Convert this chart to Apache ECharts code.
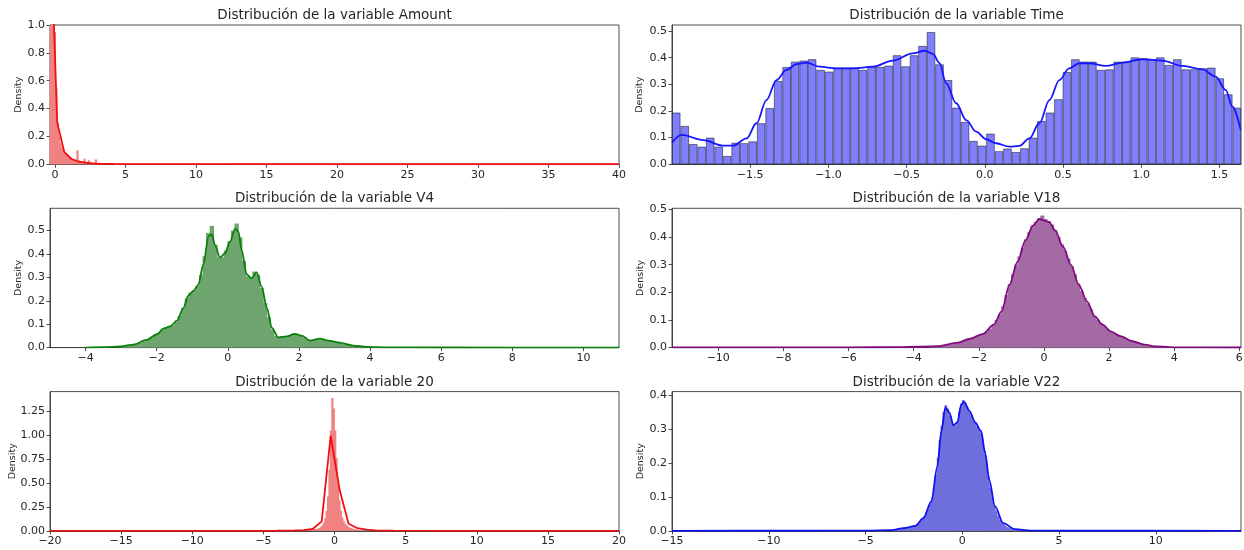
<!DOCTYPE html>
<html><head><meta charset="utf-8">
<script src="https://cdn.jsdelivr.net/npm/echarts@6/dist/echarts.min.js"></script>
<style>html,body{margin:0;padding:0;background:#fff}#c{width:1244px;height:550px}</style>
</head><body><div id="c"></div>
<script>
// ---------- Amount ----------
const amountXTicks = [0,5,10,15,20,25,30,35,40];
const amountYTicks = [0,0.2,0.4,0.6,0.8,1.0];
const amountBinStart = -0.35, amountBinWidth = 0.1;
const amountHist = [1.8,1.6,1.3,0.95,0.55,0.30,0.20,0.15,0.12,0.10,0.085,0.07,0.06,0.052,0.046,0.042,0.038,0.034,0.030,0.10,0.028,0.024,0.020,0.018,0.04,0.016,0.014,0.03,0.012,0.011,0.010,0.012,0.035,0.008,0.007,0.006,0.005,0.005,0.004];
const amountKdeX = [-0.34,0.16,0.66,1.17,1.67,2.17,2.67,3.17,3.67,4.17,5.0,7.0,10.0,20.0,40.0];
const amountKdeY = [1.82,0.30,0.09,0.038,0.020,0.012,0.007,0.004,0.003,0.002,0.0015,0.001,0.0007,0.0004,0.0002];

// ---------- Time ----------
const timeXTicks = [-1.5,-1.0,-0.5,0,0.5,1.0,1.5];
const timeYTicks = [0,0.1,0.2,0.3,0.4,0.5];
const timeBinStart = -2.0, timeBinWidth = 0.0543;
const timeHist = [0.194,0.144,0.076,0.066,0.100,0.066,0.031,0.081,0.079,0.086,
  0.154,0.211,0.3125,0.365,0.385,0.389,0.394,0.354,0.3475,0.3625,
  0.3625,0.3625,0.354,0.3675,0.365,0.37,0.409,0.3675,0.409,0.444,
  0.496,0.375,0.316,0.2125,0.159,0.0875,0.07,0.115,0.049,0.059,
  0.046,0.06,0.10,0.1625,0.194,0.244,0.346,0.394,0.385,0.385,
  0.354,0.356,0.385,0.385,0.401,0.3975,0.394,0.401,0.3725,0.394,
  0.356,0.356,0.36,0.3625,0.3225,0.2625,0.2125];
const timeKdeX = [-2.0,-1.938,-1.80,-1.673,-1.609,-1.523,-1.46,-1.396,-1.332,-1.268,-1.204,-1.14,-1.055,-0.949,-0.843,-0.715,-0.588,-0.46,-0.385,-0.332,-0.29,-0.247,-0.183,-0.119,-0.055,0.008,0.072,0.157,0.221,0.285,0.349,0.413,0.477,0.54,0.604,0.668,0.774,0.88,1.008,1.135,1.263,1.391,1.476,1.54,1.583,1.636];
const timeKdeY = [0.081,0.110,0.091,0.070,0.070,0.0975,0.154,0.241,0.316,0.354,0.376,0.381,0.366,0.360,0.360,0.366,0.389,0.416,0.426,0.414,0.38,0.304,0.229,0.166,0.1225,0.094,0.079,0.066,0.069,0.0975,0.154,0.241,0.316,0.36,0.379,0.379,0.369,0.381,0.394,0.389,0.369,0.356,0.329,0.279,0.216,0.129];

// ---------- V4 ----------
const v4XTicks = [-4,-2,0,2,4,6,8,10];
const v4YTicks = [0,0.1,0.2,0.3,0.4,0.5];
const v4BinStart = -3.0, v4BinWidth = 0.1;
const v4Hist = [0.006,0.008,0.010,0.013,0.017,0.021,0.027,0.035,0.042,0.052,
  0.062,0.076,0.086,0.090,0.095,0.110,0.135,0.170,0.210,0.235,
  0.245,0.262,0.310,0.390,0.490,0.520,0.440,0.385,0.385,0.415,
  0.455,0.500,0.530,0.470,0.370,0.305,0.300,0.325,0.310,0.255,
  0.190,0.130,0.078,0.050,0.043,0.045,0.049,0.054,0.060,0.058,
  0.052,0.043,0.033,0.030,0.033,0.038,0.037,0.032,0.029,0.026,
  0.023,0.020,0.017,0.013,0.010,0.008,0.006,0.004,0.003,0.002];
const v4KdeX = [-4.0,-3.5,-3.0,-2.65,-2.28,-1.99,-1.81,-1.62,-1.43,-1.25,-1.11,-0.97,-0.83,-0.69,-0.54,-0.45,-0.36,-0.22,-0.08,0.06,0.21,0.30,0.39,0.53,0.67,0.81,0.95,1.10,1.24,1.42,1.66,1.89,2.08,2.31,2.59,2.83,3.15,3.53,3.90,4.5,6.0,11.0];
const v4KdeY = [0.0003,0.002,0.005,0.013,0.033,0.057,0.081,0.091,0.115,0.169,0.222,0.242,0.268,0.353,0.477,0.483,0.438,0.384,0.402,0.452,0.508,0.494,0.416,0.313,0.296,0.321,0.261,0.169,0.084,0.044,0.048,0.059,0.051,0.030,0.038,0.030,0.021,0.0085,0.003,0.001,0.0004,0.0001];

// ---------- V18 ----------
const v18XTicks = [-10,-8,-6,-4,-2,0,2,4,6];
const v18YTicks = [0,0.1,0.2,0.3,0.4,0.5];
const v18BinStart = -3.5, v18BinWidth = 0.1;
const v18Hist = [0.003,0.004,0.005,0.006,0.008,0.010,0.012,0.015,0.018,0.021,
  0.025,0.029,0.034,0.038,0.042,0.046,0.051,0.058,0.068,0.082,
  0.100,0.120,0.150,0.190,0.230,0.265,0.300,0.330,0.362,0.392,
  0.418,0.442,0.455,0.468,0.478,0.465,0.458,0.445,0.425,0.400,
  0.374,0.350,0.322,0.295,0.265,0.232,0.205,0.180,0.160,0.138,
  0.115,0.100,0.088,0.078,0.068,0.060,0.053,0.047,0.041,0.035,
  0.030,0.025,0.021,0.017,0.013,0.011,0.008,0.006,0.005,0.004,
  0.003,0.002,0.002,0.001,0.001];
const v18KdeX = [-11.42,-8,-6,-4.5,-3.8,-3.245,-2.64,-2.27,-1.88,-1.54,-1.30,-1.06,-0.81,-0.57,-0.33,-0.14,-0.02,0.16,0.34,0.59,0.83,1.07,1.32,1.56,1.80,2.05,2.35,2.72,3.08,3.45,4.06,5,6.05];
const v18KdeY = [0.0005,0.0008,0.001,0.0015,0.003,0.005,0.018,0.032,0.049,0.083,0.131,0.227,0.311,0.388,0.442,0.466,0.460,0.454,0.424,0.364,0.299,0.227,0.167,0.113,0.083,0.059,0.041,0.023,0.011,0.004,0.001,0.0005,0.0003];

// ---------- 20 ----------
const v20XTicks = [-20,-15,-10,-5,0,5,10,15,20];
const v20YTicks = [0,0.25,0.5,0.75,1.0,1.25];
const v20BinStart = -2.0, v20BinWidth = 0.1;
const v20Hist = [0.006,0.007,0.008,0.010,0.012,0.014,0.017,0.020,0.025,0.032,
  0.042,0.058,0.085,0.130,0.210,0.360,0.640,1.050,1.390,1.280,
  1.050,0.760,0.500,0.320,0.210,0.140,0.100,0.075,0.058,0.046,
  0.037,0.030,0.025,0.021,0.018,0.015,0.013,0.011,0.009,0.008];
const v20KdeX = [-20,-8,-4.05,-3.42,-2.79,-2.16,-1.53,-0.90,-0.27,0.36,0.99,1.62,2.25,2.88,3.51,4.14,8,20];
const v20KdeY = [0.0003,0.0006,0.0015,0.002,0.004,0.008,0.020,0.100,0.995,0.430,0.075,0.028,0.013,0.006,0.003,0.002,0.0006,0.0003];

// ---------- V22 ----------
const v22XTicks = [-15,-10,-5,0,5,10];
const v22YTicks = [0,0.1,0.2,0.3,0.4];
const v22BinStart = -3.5, v22BinWidth = 0.1;
const v22Hist = [0.003,0.004,0.005,0.006,0.008,0.009,0.010,0.011,0.012,0.013,
  0.015,0.018,0.022,0.028,0.035,0.044,0.055,0.066,0.080,0.098,
  0.125,0.165,0.215,0.268,0.310,0.350,0.370,0.360,0.340,0.322,
  0.312,0.310,0.322,0.350,0.372,0.385,0.378,0.365,0.352,0.340,
  0.328,0.318,0.308,0.300,0.290,0.265,0.235,0.195,0.160,0.128,
  0.098,0.075,0.058,0.044,0.033,0.025,0.019,0.014,0.011,0.008,
  0.007,0.005,0.004,0.003,0.003,0.002,0.002,0.001,0.001,0.001];
const v22KdeX = [-15,-8,-5,-3.65,-3.03,-2.42,-2.01,-1.60,-1.29,-1.08,-0.88,-0.67,-0.46,-0.26,-0.05,0.09,0.36,0.67,0.97,1.18,1.39,1.69,2.11,2.72,3.54,5,14.4];
const v22KdeY = [0.0002,0.0005,0.001,0.002,0.008,0.015,0.0375,0.087,0.19,0.294,0.363,0.349,0.311,0.319,0.373,0.38,0.354,0.319,0.294,0.23,0.151,0.072,0.023,0.005,0.001,0.0005,0.0002];

const FONT = 'DejaVu Sans';
const TXT = '#262626';
const AX = '#3a3a3a';
const W = 569, H = 139.3;
const panels = [
  {title:'Distribución de la variable Amount', left:50, top:25, xMin:-0.35, xMax:40, xTicks:amountXTicks, xDec:0, yMax:1.0, yTicks:amountYTicks, yDec:1, nameGap:26,
   bs:amountBinStart, bw:amountBinWidth, hist:amountHist, kx:amountKdeX, ky:amountKdeY, fill:'#f08282', line:'#f01010', border:null, smooth:false},
  {title:'Distribución de la variable Time', left:672, top:25, xMin:-2.0, xMax:-2.0+67*0.0543, xTicks:timeXTicks, xDec:1, yMax:0.5225, yTicks:timeYTicks, yDec:1, nameGap:27,
   bs:timeBinStart, bw:timeBinWidth, hist:timeHist, kx:timeKdeX, ky:timeKdeY, fill:'#8080ff', line:'#1515ff', border:'rgba(0,0,0,0.6)', smooth:0.35},
  {title:'Distribución de la variable V4', left:50, top:208.3, xMin:-5, xMax:11, xTicks:v4XTicks, xDec:0, yMax:0.595, yTicks:v4YTicks, yDec:1, nameGap:26,
   bs:v4BinStart, bw:v4BinWidth, hist:v4Hist, kx:v4KdeX, ky:v4KdeY, fill:'#6ea56e', line:'#0a800a', border:null, smooth:0.3},
  {title:'Distribución de la variable V18', left:672, top:208.3, xMin:-11.42, xMax:6.05, xTicks:v18XTicks, xDec:0, yMax:0.504, yTicks:v18YTicks, yDec:1, nameGap:26,
   bs:v18BinStart, bw:v18BinWidth, hist:v18Hist, kx:v18KdeX, ky:v18KdeY, fill:'#a46aa4', line:'#800a80', border:null, smooth:0.3},
  {title:'Distribución de la variable 20', left:50, top:391.6, xMin:-20, xMax:20, xTicks:v20XTicks, xDec:0, yMax:1.457, yTicks:v20YTicks, yDec:2, nameGap:32.5,
   bs:v20BinStart, bw:v20BinWidth, hist:v20Hist, kx:v20KdeX, ky:v20KdeY, fill:'#f08282', line:'#f01010', border:null, smooth:false},
  {title:'Distribución de la variable V22', left:672, top:391.6, xMin:-15, xMax:14.4, xTicks:v22XTicks, xDec:0, yMax:0.41, yTicks:v22YTicks, yDec:1, nameGap:26,
   bs:v22BinStart, bw:v22BinWidth, hist:v22Hist, kx:v22KdeX, ky:v22KdeY, fill:'#6e6edc', line:'#1010f0', border:null, smooth:0.3}
];

function fmt(v, dec){
  const s = Number(v).toFixed(dec);
  return s.charAt(0) === '-' ? '\u2212' + s.slice(1) : s;
}

const option = {
  backgroundColor:'#fff',
  animation:false,
  title:[], grid:[], xAxis:[], yAxis:[], series:[]
};

panels.forEach((p, i) => {
  option.title.push({
    text:p.title, left:p.left + W/2, top:p.top - 16.5, textAlign:'center', padding:0,
    textStyle:{fontFamily:FONT, fontSize:13.5, fontWeight:'normal', color:TXT}
  });
  option.grid.push({left:p.left, top:p.top, width:W, height:H, show:true, borderColor:AX, borderWidth:0.9, backgroundColor:'transparent', outerBoundsMode:'none', containLabel:false});
  option.xAxis.push({
    gridIndex:i, type:'value', min:p.xMin, max:p.xMax,
    splitLine:{show:false},
    axisLine:{show:true, onZero:false, lineStyle:{color:AX, width:0.9}},
    axisTick:{show:true, length:3.5, lineStyle:{color:AX, width:0.9}, customValues:p.xTicks},
    axisLabel:{customValues:p.xTicks, formatter:(v)=>fmt(v, p.xDec), fontFamily:FONT, fontSize:11, color:TXT, margin:5, showMinLabel:true, showMaxLabel:true}
  });
  option.yAxis.push({
    gridIndex:i, type:'value', min:0, max:p.yMax,
    splitLine:{show:false},
    axisLine:{show:true, onZero:false, lineStyle:{color:AX, width:0.9}},
    axisTick:{show:true, length:3.5, lineStyle:{color:AX, width:0.9}, customValues:p.yTicks},
    axisLabel:{customValues:p.yTicks, formatter:(v)=>fmt(v, p.yDec), fontFamily:FONT, fontSize:11, color:TXT, margin:5},
    name:'Density', nameLocation:'middle', nameGap:p.nameGap, nameMoveOverlap:false,
    nameTextStyle:{fontFamily:FONT, fontSize:9.5, color:TXT}
  });
  const histData = p.hist.map((v, k) => [p.bs + (k + 0.5) * p.bw, v]);
  const pxBin = p.bw * W / (p.xMax - p.xMin);
  option.series.push({
    type:'bar', xAxisIndex:i, yAxisIndex:i, data:histData,
    barWidth: p.border ? '100%' : pxBin + 0.8, barCategoryGap:'0%', clip:true, silent:true,
    itemStyle: p.border ? {color:p.fill, borderColor:p.border, borderWidth:0.8} : {color:p.fill, borderWidth:0},
    z:2
  });
  option.series.push({
    type:'line', xAxisIndex:i, yAxisIndex:i,
    data:p.kx.map((x, k) => [x, p.ky[k]]),
    showSymbol:false, symbol:'none', smooth:p.smooth, smoothMonotone:'x', clip:true, silent:true,
    lineStyle:{color:p.line, width:1.8},
    z:3
  });
});

const chart = echarts.init(document.getElementById('c'), null, {renderer:'canvas'});
chart.setOption(option);
</script></body></html>
